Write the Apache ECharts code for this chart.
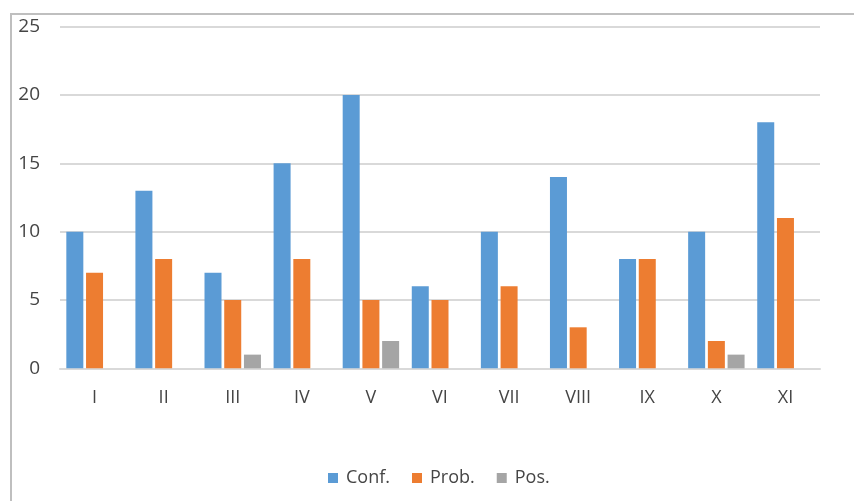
<!DOCTYPE html>
<html><head><meta charset="utf-8">
<script src="https://cdn.jsdelivr.net/npm/echarts@6/dist/echarts.min.js"></script>
<style>html,body{margin:0;padding:0;background:#fff}#c{width:854px;height:501px}</style>
</head><body><div id="c"></div>
<script>
const categories = ['I','II','III','IV','V','VI','VII','VIII','IX','X','XI'];
const conf = [10,13,7,15,20,6,10,14,8,10,18];
const prob = [7,8,5,8,5,5,6,3,8,2,11];
const pos = [0,0,1,0,2,0,0,0,0,1,0];
const yTicks = [0,5,10,15,20,25];

const chart = echarts.init(document.getElementById('c'));
const font = '"Open Sans", "Liberation Sans", sans-serif';
chart.setOption({
  animation: false,
  graphic: [{type:'rect', shape:{x:11,y:14,width:900,height:600}, style:{fill:'none', stroke:'#bfbfbf', lineWidth:2}}],
  grid: {left:60, right:34, top:26.7, bottom:501-368.3},
  legend: {
    data:['Conf.','Prob.','Pos.'], top:464, left:323,
    icon:'rect', itemWidth:10, itemHeight:10, itemGap:22,
    textStyle:{fontFamily:font, fontSize:18, color:'#454545', padding:[0,0,0,3]}
  },
  xAxis: {
    type:'category', data:categories,
    axisLine:{lineStyle:{color:'#d9d9d9', width:2}},
    axisTick:{show:false},
    axisLabel:{fontFamily:font, fontSize:18, color:'#454545', margin:21}
  },
  yAxis: {
    type:'value', min:yTicks[0], max:yTicks[yTicks.length-1], interval:5,
    axisLine:{show:false}, axisTick:{show:false},
    splitLine:{lineStyle:{color:'#d9d9d9', width:2}},
    axisLabel:{fontFamily:font, fontSize:19, color:'#454545', margin:20}
  },
  series: [
    {name:'Conf.', type:'bar', data:conf, barWidth:17, barGap:'16%', itemStyle:{color:'#5B9BD5'}},
    {name:'Prob.', type:'bar', data:prob, barWidth:17, barGap:'16%', itemStyle:{color:'#ED7D31'}},
    {name:'Pos.', type:'bar', data:pos, barWidth:17, barGap:'16%', itemStyle:{color:'#A5A5A5'}}
  ]
});
</script></body></html>
